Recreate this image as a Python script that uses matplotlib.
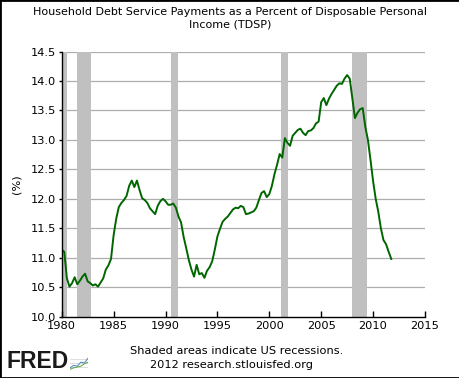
import numpy as np
import matplotlib
matplotlib.use("Agg")
import matplotlib.pyplot as plt
from matplotlib.patches import Rectangle

# ---------------- data ----------------
start_year = 1980.0  # first quarter 1980Q1, quarterly observations
tdsp = [
    11.14, 11.10, 10.65, 10.51, 10.57, 10.67, 10.55, 10.61,
    10.68, 10.73, 10.60, 10.57, 10.53, 10.55, 10.51, 10.58,
    10.65, 10.80, 10.87, 10.98, 11.38, 11.66, 11.86, 11.93,
    11.98, 12.05, 12.22, 12.31, 12.20, 12.31, 12.15, 12.01,
    11.98, 11.93, 11.84, 11.79, 11.74, 11.88, 11.96, 12.00,
    11.96, 11.90, 11.90, 11.92, 11.85, 11.70, 11.60, 11.35,
    11.16, 10.96, 10.80, 10.68, 10.88, 10.72, 10.74, 10.66,
    10.78, 10.84, 10.94, 11.14, 11.36, 11.49, 11.61, 11.66,
    11.70, 11.76, 11.82, 11.85, 11.84, 11.88, 11.86, 11.74,
    11.75, 11.77, 11.79, 11.85, 11.98, 12.10, 12.13, 12.03,
    12.08, 12.22, 12.42, 12.58, 12.76, 12.70, 13.03, 12.95,
    12.90, 13.07, 13.12, 13.17, 13.19, 13.12, 13.08, 13.15,
    13.16, 13.20, 13.28, 13.31, 13.64, 13.71, 13.59, 13.70,
    13.78, 13.85, 13.92, 13.96, 13.95, 14.04, 14.10, 14.04,
    13.70, 13.37, 13.46, 13.52, 13.54, 13.22, 13.00, 12.66,
    12.30, 12.00, 11.78, 11.50, 11.30, 11.23, 11.10, 10.98,
]
recession_starts = [1980.0, 1981.5, 1990.5, 2001.17, 2007.92]
recession_ends = [1980.5, 1982.83, 1991.17, 2001.83, 2009.42]
x_ticks = [1980, 1985, 1990, 1995, 2000, 2005, 2010, 2015]
y_ticks = [10.0, 10.5, 11.0, 11.5, 12.0, 12.5, 13.0, 13.5, 14.0, 14.5]
title = "Household Debt Service Payments as a Percent of Disposable Personal\nIncome (TDSP)"
ylabel = "(%)"
note1 = "Shaded areas indicate US recessions."
note2 = "2012 research.stlouisfed.org"
logo_text = "FRED"
# decorative logo sparkline
logo_a = [0.2, 0.35, 0.3, 0.55, 0.5, 0.8]
logo_b = [0.1, 0.2, 0.25, 0.3, 0.45, 0.55]

years = start_year + np.arange(len(tdsp)) / 4.0

# ---------------- figure ----------------
W, H = 460, 378
fig = plt.figure(figsize=(W / 100, H / 100), dpi=100)
fig.patch.set_facecolor("white")

ax = fig.add_axes([61.7 / W, (H - 316.7) / H, 363.3 / W, 265.2 / H])
ax.set_xlim(1980, 2015)
ax.set_ylim(10.0, 14.5)

for s, e in zip(recession_starts, recession_ends):
    ax.axvspan(s, e, color="#c0c0c0", lw=0, zorder=1)

for yv in y_ticks[1:]:
    ax.axhline(yv, color="#adadad", lw=0.9, zorder=0.5)

ax.plot(years, tdsp, color="#006600", lw=1.4, zorder=3)

for side in ("top", "right"):
    ax.spines[side].set_visible(False)
for side in ("left", "bottom"):
    ax.spines[side].set_color("black")
    ax.spines[side].set_linewidth(1.0)
    ax.spines[side].set_zorder(4)

fs = 8.2
ax.set_xticks(x_ticks)
ax.set_xticklabels([str(t) for t in x_ticks])
ax.set_yticks(y_ticks)
ax.set_yticklabels(["%.1f" % t for t in y_ticks])
ax.tick_params(axis="x", direction="in", length=4, width=1, pad=3,
               labelsize=fs, colors="black")
ax.tick_params(axis="y", direction="out", length=2, width=1, pad=2,
               labelsize=fs, colors="black")
ax.set_ylabel(ylabel, fontsize=fs, labelpad=7)

fig.text(0.5, 1 - 18 / H, title, ha="center", va="center",
         fontsize=8.0, linespacing=1.3)
fig.text(237 / W, 1 - 351 / H, note1, ha="center", va="center", fontsize=fs)
fig.text(232 / W, 1 - 365 / H, note2, ha="center", va="center", fontsize=fs)
fig.text(7 / W, 1 - 362 / H, logo_text, ha="left", va="center",
         fontsize=16.5, fontweight="bold", family="Liberation Sans",
         color="#1a1a1a")

# logo icon
lax = fig.add_axes([70 / W, (H - 371) / H, 18 / W, 16 / H])
lax.set_xlim(0, len(logo_a) - 1)
lax.set_ylim(0, 1)
for gy in (0.25, 0.5, 0.75):
    lax.axhline(gy, color="#d0d0d0", lw=0.5)
lax.plot(range(len(logo_a)), logo_a, color="#5a8fc0", lw=0.8)
lax.plot(range(len(logo_b)), logo_b, color="#6aaa50", lw=0.8)
lax.set_xticks([])
lax.set_yticks([])
for sp in lax.spines.values():
    sp.set_visible(False)
lax.patch.set_alpha(0)

fig.patches.append(Rectangle((0, 0), 1, 1, transform=fig.transFigure,
                             fill=False, edgecolor="black", lw=2))

fig.savefig("out.png", dpi=100)
